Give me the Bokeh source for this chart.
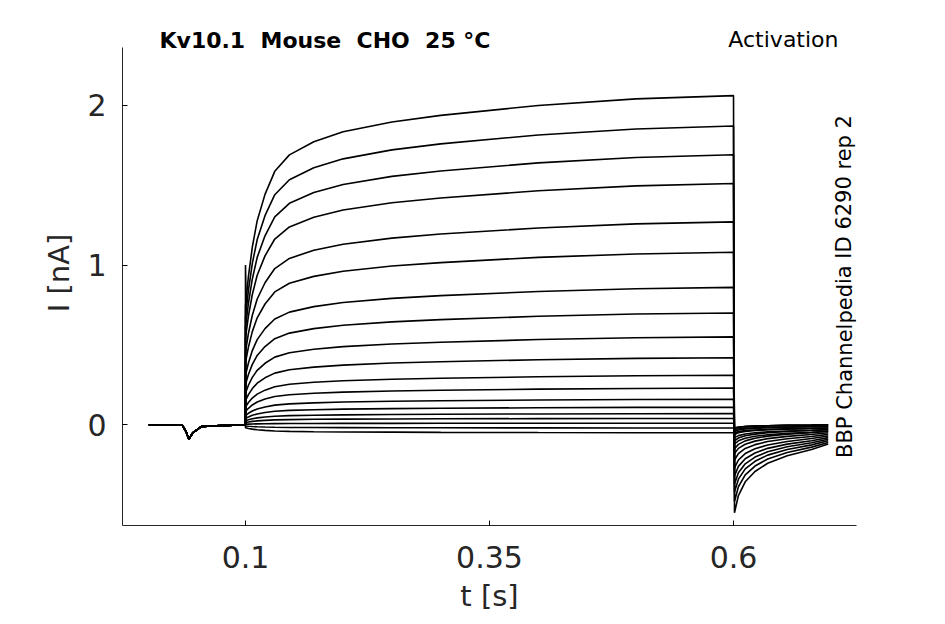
from bokeh.plotting import figure
from bokeh.models import Range1d, FixedTicker, Label
from bokeh.embed import file_html
from bokeh.resources import INLINE

# steady-state current (nA) of each activation trace at the end of the step
levels = [2.06, 1.87, 1.69, 1.51, 1.27, 1.08, 0.86, 0.70, 0.55, 0.42, 0.31,
          0.23, 0.16, 0.11, 0.07, 0.04, 0.01, -0.02, -0.05]
# tail current minimum (nA) and value at end (nA) of each trace
tail_min = [-0.55, -0.48, -0.42, -0.37, -0.32, -0.27, -0.22, -0.18, -0.15, -0.12,
            -0.10, -0.08, -0.06, -0.05, -0.04, -0.03, -0.02, -0.02, -0.02]
tail_end = [-0.12, -0.11, -0.10, -0.09, -0.08, -0.07, -0.06, -0.05, -0.04, -0.04,
            -0.03, -0.03, -0.02, -0.02, -0.01, -0.01, 0.0, 0.0, 0.0]
# time points (s) and read activation fraction during the step
step_t = [0.1, 0.103, 0.107, 0.112, 0.12, 0.13, 0.145, 0.17, 0.2, 0.25, 0.3, 0.4, 0.5, 0.6]
step_frac = [0.36, 0.45, 0.54, 0.62, 0.7, 0.77, 0.82, 0.86, 0.89, 0.92, 0.94, 0.97, 0.99, 1.0]
# tail time points (s) and read relaxation fraction (0 = min, 1 = end)
tail_t = [0.601, 0.605, 0.612, 0.622, 0.635, 0.655, 0.68, 0.697]
tail_frac = [0.0, 0.25, 0.45, 0.6, 0.72, 0.83, 0.92, 1.0]
# holding segment
hold_t = [0.001, 0.035, 0.039, 0.042, 0.046, 0.055, 0.1]
hold_i = [0.0, 0.0, -0.04, -0.09, -0.05, -0.01, 0.0]

p = figure(width=930, height=615, output_backend="svg", toolbar_location=None,
           x_range=Range1d(-0.026, 0.726), y_range=Range1d(-0.63, 2.53),
           min_border_left=122, min_border_top=20, min_border_right=74, min_border_bottom=85)
p.outline_line_color = None
p.grid.visible = False
p.background_fill_color = "white"

for k, L in enumerate(levels):
    xs = list(hold_t)
    ys = list(hold_i)
    xs += step_t
    ys += [L * f for f in step_frac]
    if k == 0:
        xs.append(0.6); ys.append(2.06)
    xs += tail_t
    ys += [tail_min[k] + (tail_end[k] - tail_min[k]) * f for f in tail_frac]
    p.line(xs, ys, line_color="black", line_width=1.6)

# capacitive spike at step onset
p.line([0.1, 0.1, 0.1008], [0.0, 1.0, 0.75], line_color="black", line_width=1.6)

for ax in (p.xaxis[0], p.yaxis[0]):
    ax.major_label_text_font_size = "30px"
    ax.axis_label_text_font_size = "29px"
    ax.major_label_text_font = "DejaVu Sans"
    ax.axis_label_text_font = "DejaVu Sans"
    ax.axis_label_text_font_style = "normal"
    ax.major_label_text_color = "#262626"
    ax.axis_label_text_color = "#262626"
    ax.axis_line_color = "#262626"
    ax.major_tick_in = 5
    ax.major_tick_out = 0
    ax.minor_tick_line_color = None
p.xaxis.major_label_standoff = 20
p.xaxis.axis_label_standoff = 8
p.yaxis.major_label_standoff = 16
p.yaxis.axis_label_standoff = 8
p.yaxis.bounds = (-0.63, 2.36)
p.xaxis.ticker = FixedTicker(ticks=[0.1, 0.35, 0.6])
p.yaxis.ticker = FixedTicker(ticks=[0, 1, 2])
p.xaxis.axis_label = "t [s]"
p.yaxis.axis_label = "I [nA]"

nb = "\u00a0\u00a0"
p.add_layout(Label(x=37, y=485, x_units="screen", y_units="screen",
                   text=f"Kv10.1{nb}Mouse{nb}CHO{nb}25 °C", text_font="DejaVu Sans",
                   text_font_style="bold", text_font_size="22px", text_baseline="middle",
                   text_color="black"))
p.add_layout(Label(x=716, y=486, x_units="screen", y_units="screen",
                   text="Activation", text_font="DejaVu Sans", text_align="right",
                   text_font_size="22px", text_baseline="middle", text_color="black"))
p.add_layout(Label(x=722, y=239, x_units="screen", y_units="screen",
                   text="BBP Channelpedia ID 6290 rep 2", text_font="DejaVu Sans",
                   text_font_size="21px", angle=1.5708, text_align="center",
                   text_baseline="middle", text_color="black"))

open("out.html", "w").write(file_html(p, INLINE))
